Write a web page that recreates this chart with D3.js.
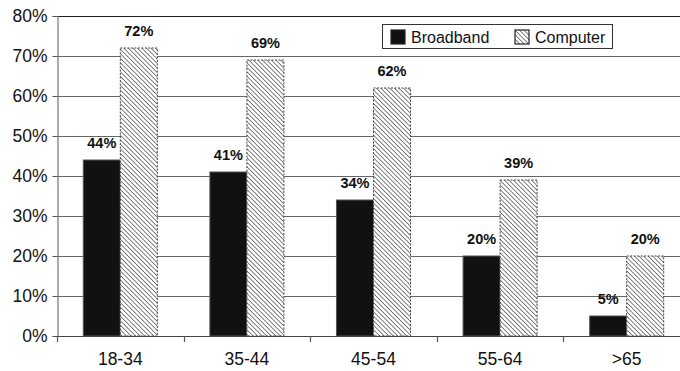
<!DOCTYPE html>
<html>
<head>
<meta charset="utf-8">
<script src="https://cdn.jsdelivr.net/npm/d3@7"></script>
<style>
  html, body { margin: 0; padding: 0; background: #fff; }
  svg { display: block; font-family: "Liberation Sans", Arial, sans-serif; }
</style>
</head>
<body>
<svg id="chart" width="680" height="371"></svg>
<script>
// Share of each age group with broadband access and with a home computer
const categories = ["18-34", "35-44", "45-54", "55-64", ">65"];
const seriesNames = ["Broadband", "Computer"];
const broadband = [44, 41, 34, 20, 5];
const computer = [72, 69, 62, 39, 20];
const yTicks = [0, 10, 20, 30, 40, 50, 60, 70, 80];

const svg = d3.select("#chart");
const margin = { left: 57, top: 16, right: 690, bottom: 336 };

// diagonal hatch running from top-left to bottom-right
const defs = svg.append("defs");
const pat = defs.append("pattern")
  .attr("id", "hatch")
  .attr("patternUnits", "userSpaceOnUse")
  .attr("width", 3.2).attr("height", 3.2)
  .attr("patternTransform", "rotate(-45)");
pat.append("rect").attr("width", 3.2).attr("height", 3.2).attr("fill", "#fff");
pat.append("line")
  .attr("x1", 0).attr("y1", 0).attr("x2", 0).attr("y2", 3.2)
  .attr("stroke", "#5a5a5a").attr("stroke-width", 1.5);

const x0 = d3.scaleBand().domain(categories).range([margin.left, margin.right]).padding(0);
const x1 = d3.scaleBand().domain(seriesNames).range([0, x0.bandwidth()])
  .paddingInner(0).paddingOuter(0.71);
const y = d3.scaleLinear().domain([0, 80]).range([margin.bottom, margin.top]);

// horizontal gridlines
svg.append("g").selectAll("line").data(yTicks.filter(t => t > 0)).join("line")
  .attr("x1", margin.left).attr("x2", 680)
  .attr("y1", d => Math.round(y(d)) + 0.5).attr("y2", d => Math.round(y(d)) + 0.5)
  .attr("stroke", d => d === 80 ? "#222" : "#666").attr("stroke-width", 1.2);

// y axis
const yAxis = d3.axisLeft(y).tickValues(yTicks).tickFormat(d => d + "%").tickSize(5).tickPadding(5);
const gy = svg.append("g").attr("transform", `translate(${margin.left + 0.5},0)`).call(yAxis);
gy.select(".domain").attr("stroke", "#777").attr("stroke-width", 1.2);
gy.selectAll(".tick line").attr("stroke", "#555");
gy.selectAll(".tick text").attr("font-size", 17.5).attr("fill", "#111")
  .attr("font-family", "Liberation Sans, Arial, sans-serif");

// bars
const data = categories.map((c, i) => ({ c, vals: [
  { s: "Broadband", v: broadband[i] },
  { s: "Computer", v: computer[i] }
] }));

const groups = svg.append("g").selectAll("g").data(data).join("g")
  .attr("transform", d => `translate(${x0(d.c)},0)`);

groups.selectAll("rect").data(d => d.vals).join("rect")
  .attr("x", d => x1(d.s))
  .attr("y", d => y(d.v))
  .attr("width", x1.bandwidth())
  .attr("height", d => y(0) - y(d.v))
  .attr("fill", d => d.s === "Broadband" ? "#111" : "url(#hatch)")
  .attr("stroke", d => d.s === "Broadband" ? "#555" : "#444")
  .attr("stroke-width", 1)
  .attr("stroke-dasharray", d => d.s === "Broadband" ? null : "2,1.5");

groups.selectAll("text").data(d => d.vals).join("text")
  .attr("x", d => x1(d.s) + x1.bandwidth() / 2)
  .attr("y", d => y(d.v) - 12)
  .attr("text-anchor", "middle")
  .attr("font-size", 14.5).attr("font-weight", "bold").attr("fill", "#111")
  .text(d => d.v + "%");

// x axis baseline and boundary ticks
svg.append("line")
  .attr("x1", margin.left).attr("x2", 680)
  .attr("y1", y(0) + 0.5).attr("y2", y(0) + 0.5)
  .attr("stroke", "#444").attr("stroke-width", 1.2);
svg.append("g").selectAll("line").data(categories).join("line")
  .attr("x1", d => Math.round(x0(d)) + 0.5).attr("x2", d => Math.round(x0(d)) + 0.5)
  .attr("y1", y(0)).attr("y2", y(0) + 6)
  .attr("stroke", "#555").attr("stroke-width", 1.2);
svg.append("g").selectAll("text").data(categories).join("text")
  .attr("x", d => x0(d) + x0.bandwidth() / 2)
  .attr("y", 365)
  .attr("text-anchor", "middle")
  .attr("font-size", 17.5).attr("fill", "#111")
  .text(d => d);

// legend
const lg = svg.append("g");
lg.append("rect").attr("x", 382.5).attr("y", 24.5).attr("width", 230).attr("height", 24)
  .attr("fill", "#fff").attr("stroke", "#333").attr("stroke-width", 1);
const legendItems = [
  { s: "Broadband", x: 391 },
  { s: "Computer", x: 515 }
];
legendItems.forEach(it => {
  lg.append("rect").attr("x", it.x).attr("y", 30).attr("width", 14).attr("height", 14)
    .attr("fill", it.s === "Broadband" ? "#111" : "url(#hatch)")
    .attr("stroke", "#222").attr("stroke-width", 1.2);
  lg.append("text").attr("x", it.x + 20).attr("y", 43)
    .attr("font-size", 16).attr("fill", "#111").text(it.s);
});
</script>
</body>
</html>
